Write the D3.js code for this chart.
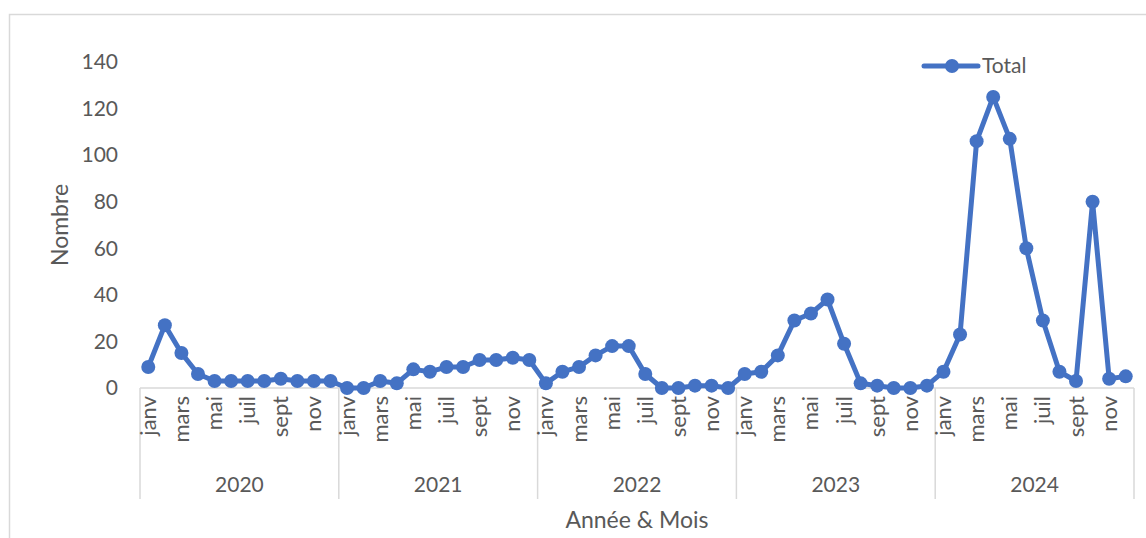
<!DOCTYPE html>
<meta charset="utf-8">
<head>
  <title>total-par-mois</title>
</head>
<style>
  body { margin: 0; background: #fff; }
  text { font-family: Lato, "Liberation Sans", sans-serif; fill: #595959; }
</style>
<body>
  <svg width="1146" height="538"></svg>

  <script src="https://cdnjs.cloudflare.com/ajax/libs/d3/7.8.5/d3.min.js"></script>
  <script>
    var years = ['2020', '2021', '2022', '2023', '2024']
    var months = ['janv', 'févr', 'mars', 'avr', 'mai', 'juin', 'juil', 'août', 'sept', 'oct', 'nov', 'déc']
    var yTicks = [0, 20, 40, 60, 80, 100, 120, 140]

    // one value per month, janv 2020 -> déc 2024
    var total2020 = [9, 27, 15, 6, 3, 3, 3, 3, 4, 3, 3, 3]
    var total2021 = [0, 0, 3, 2, 8, 7, 9, 9, 12, 12, 13, 12]
    var total2022 = [2, 7, 9, 14, 18, 18, 6, 0, 0, 1, 1, 0]
    var total2023 = [6, 7, 14, 29, 32, 38, 19, 2, 1, 0, 0, 1]
    var total2024 = [7, 23, 106, 125, 107, 60, 29, 7, 3, 80, 4, 5]

    var values = [total2020, total2021, total2022, total2023, total2024]
    var data = []
    years.forEach(function(y, i) {
      months.forEach(function(m, j) {
        data.push({ key: y + '-' + j, year: y, month: m, mi: j, value: values[i][j] })
      })
    })

    var svg = d3.select('svg')
    var blue = '#4472c4',
      grey = '#d9d9d9'

    // chart border
    svg.append('rect')
      .attr('x', 9.5).attr('y', 14.5)
      .attr('width', 1150).attr('height', 540)
      .attr('fill', 'none').attr('stroke', grey).attr('stroke-width', 1.5)

    var x = d3.scaleBand()
      .domain(data.map(function(d) { return d.key }))
      .range([140, 1134])
      .padding(0)

    var y = d3.scaleLinear()
      .domain([0, 140])
      .range([388, 62])

    // y tick labels (no axis line, no grid)
    var yAxis = svg.append('g')
      .attr('transform', 'translate(122,0)')
      .call(d3.axisLeft(y).tickValues(yTicks).tickSize(0).tickPadding(4))
    yAxis.select('.domain').remove()
    yAxis.selectAll('text')
      .attr('font-size', 21)
      .style('font-family', 'Lato, sans-serif')
      .attr('fill', '#595959')

    // category axis
    svg.append('line')
      .attr('x1', 140).attr('x2', 1134)
      .attr('y1', 388).attr('y2', 388)
      .attr('stroke', grey).attr('stroke-width', 1.5)

    var yearStarts = years.map(function(yr) { return x(yr + '-0') })
    yearStarts.push(x.range()[1])
    svg.selectAll('.divider')
      .data(yearStarts)
      .enter()
      .append('line')
      .attr('class', 'divider')
      .attr('x1', function(d) { return d }).attr('x2', function(d) { return d })
      .attr('y1', 388).attr('y2', 499)
      .attr('stroke', grey).attr('stroke-width', 1.5)

    svg.selectAll('.month')
      .data(data.filter(function(d) { return d.mi % 2 == 0 }))
      .enter()
      .append('text')
      .attr('class', 'month')
      .attr('transform', function(d) {
        return 'translate(' + (x(d.key) + x.bandwidth() / 2 + 7.5) + ',396) rotate(-90)'
      })
      .attr('text-anchor', 'end')
      .attr('font-size', 22)
      .text(function(d) { return d.month })

    svg.selectAll('.year')
      .data(years)
      .enter()
      .append('text')
      .attr('class', 'year')
      .attr('x', function(d) { return (x(d + '-0') + x(d + '-11') + x.bandwidth()) / 2 })
      .attr('y', 492)
      .attr('text-anchor', 'middle')
      .attr('font-size', 21)
      .text(function(d) { return d })

    // axis titles
    svg.append('text')
      .attr('x', 637).attr('y', 528)
      .attr('text-anchor', 'middle')
      .attr('font-size', 23)
      .text('Année & Mois')

    svg.append('text')
      .attr('transform', 'translate(68,225) rotate(-90)')
      .attr('text-anchor', 'middle')
      .attr('font-size', 23)
      .text('Nombre')

    // series
    var line = d3.line()
      .x(function(d) { return x(d.key) + x.bandwidth() / 2 })
      .y(function(d) { return y(d.value) })

    svg.append('path')
      .datum(data)
      .attr('d', line)
      .attr('fill', 'none')
      .attr('stroke', blue)
      .attr('stroke-width', 5)
      .attr('stroke-linejoin', 'round')
      .attr('stroke-linecap', 'round')

    svg.selectAll('.pt')
      .data(data)
      .enter()
      .append('circle')
      .attr('class', 'pt')
      .attr('cx', function(d) { return x(d.key) + x.bandwidth() / 2 })
      .attr('cy', function(d) { return y(d.value) })
      .attr('r', 7)
      .attr('fill', blue)

    // legend
    var lg = svg.append('g').attr('transform', 'translate(924,66)')
    lg.append('line')
      .attr('x1', 0).attr('x2', 54)
      .attr('stroke', blue).attr('stroke-width', 5).attr('stroke-linecap', 'round')
    lg.append('circle').attr('cx', 28).attr('r', 7).attr('fill', blue)
    lg.append('text')
      .attr('x', 58).attr('y', 7)
      .attr('font-size', 21)
      .text('Total')
  </script>
</body>
</html>
